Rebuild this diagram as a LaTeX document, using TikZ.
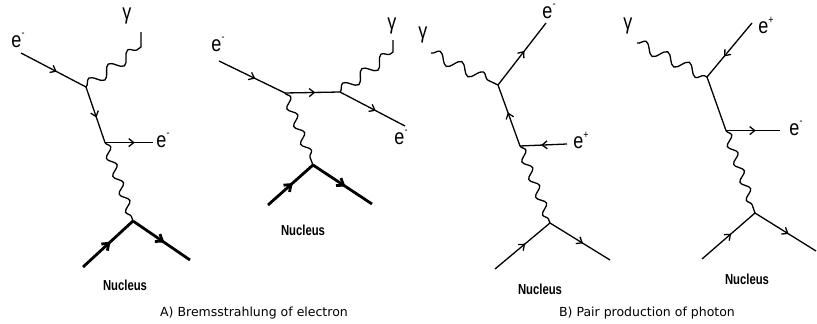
\documentclass[tikz,border=0pt]{standalone}
\usepackage{fontspec}
\setmainfont{DejaVu Sans}
\newfontfamily\labfont[FakeStretch=0.82]{Liberation Sans}
\newfontfamily\nucfont[FakeStretch=0.78]{Liberation Sans Bold}
\newcommand{\emin}{e\raisebox{0.5em}{\fontsize{11}{11}\selectfont -}}
\newcommand{\eplus}{e\raisebox{0.45em}{\fontsize{11}{11}\selectfont +}}
\usetikzlibrary{decorations.pathmorphing,decorations.markings,arrows.meta}
\begin{document}
\begin{tikzpicture}[x=1pt,y=-1pt,
  fermion/.style={line width=1.3pt, postaction={decorate},
    decoration={markings, mark=at position #1 with {\arrow{Straight Barb[length=5pt,width=8pt,line width=1.3pt]}}}},
  fermion/.default=0.55,
  heavy/.style={line width=2.8pt, postaction={decorate},
    decoration={markings, mark=at position #1 with {\arrow{Straight Barb[length=6pt,width=9pt,line width=2.8pt]}}}},
  heavy/.default=0.55,
  plain/.style={line width=1.3pt},
  photon/.style={line width=1.3pt},
  wig/.style={decoration={snake, amplitude=5.5pt, segment length=24pt}},
  wigs/.style={decoration={snake, amplitude=4pt, segment length=19pt}},
  lab/.style={font=\labfont\fontsize{22}{22}\selectfont, inner sep=0pt},
  glab/.style={font=\labfont\fontsize{22}{22}\selectfont, inner sep=0pt},
  nuc/.style={font=\nucfont\fontsize{14.5}{14.5}\selectfont, inner sep=0pt},
  captxt/.style={font=\fontsize{12.5}{13}\selectfont, inner sep=0pt}]
\useasboundingbox (0,0) rectangle (817,324);
% ---------- Diagram A1 ----------
\coordinate (a0) at (21,53);
\coordinate (a1) at (86,87);
\coordinate (a2) at (105,142.6);
\coordinate (a3) at (153,142.6);
\coordinate (a4) at (133,221);
\coordinate (an1) at (83,267);
\coordinate (an2) at (190,260);
\coordinate (ag) at (141,47);
\coordinate (agend) at (141,32);
\draw[fermion] (a0) -- (a1);
\draw[fermion] (a1) -- (a2);
\draw[fermion=0.62] (a2) -- (a3);
\draw[photon] (a1) decorate[wig]{-- (ag)} -- (agend);
\draw[photon] (a2) decorate[wigs]{-- (a4)};
\draw[heavy] (an1) -- (a4);
\draw[heavy] (a4) -- (an2);
\node[lab] (la0) at (18,40) {\emin};
\node[glab] (la1) at (127,16) {γ};
\node[lab] (la2) at (163,140) {\emin};
\node[nuc] (la3) at (125,285) {Nucleus};
% ---------- Diagram A2 ----------
\coordinate (b0) at (219,61);
\coordinate (b1) at (285,93);
\coordinate (b2) at (340,92);
\coordinate (b3) at (405,126);
\coordinate (b4) at (313,165);
\coordinate (bn1) at (268,205);
\coordinate (bn2) at (372,204);
\coordinate (bg) at (393,52);
\coordinate (bgend) at (393,40);
\draw[fermion] (b0) -- (b1);
\draw[fermion] (b1) -- (b2);
\draw[fermion] (b2) -- (b3);
\draw[photon] (b2) decorate[wig]{-- (bg)} -- (bgend);
\draw[photon] (b1) decorate[wigs]{-- (b4)};
\draw[heavy] (bn1) -- (b4);
\draw[heavy] (b4) -- (bn2);
\node[lab] (lb0) at (218,44) {\emin};
\node[glab] (lb1) at (392,26) {γ};
\node[lab] (lb2) at (401,137) {\emin};
\node[nuc] (lb3) at (303,230) {Nucleus};
% ---------- Diagram B1 ----------
\coordinate (cg) at (431,53);
\coordinate (c1) at (498,85);
\coordinate (c0) at (546,23);
\coordinate (c2) at (520,146);
\coordinate (c3) at (567,144);
\coordinate (c4) at (550,223);
\coordinate (cn1) at (495,269);
\coordinate (cn2) at (610,260);
\draw[photon] (cg) decorate[wig]{-- (c1)};
\draw[fermion] (c1) -- (c0);
\draw[fermion] (c2) -- (c1);
\draw[fermion] (c3) -- (c2);
\draw[photon] (c2) decorate[wigs]{-- (c4)};
\draw[fermion] (cn1) -- (c4);
\draw[fermion] (c4) -- (cn2);
\node[glab] (lc0) at (423,35) {γ};
\node[lab] (lc1) at (549,11) {\emin};
\node[lab] (lc2) at (581,140) {\eplus};
\node[nuc] (lc3) at (540,289) {Nucleus};
% ---------- Diagram B2 ----------
\coordinate (dg) at (637,43);
\coordinate (d1) at (707,77);
\coordinate (d0) at (752,23);
\coordinate (d2) at (726,130.6);
\coordinate (d3) at (780,130.6);
\coordinate (d4) at (755,213);
\coordinate (dn1) at (702,259);
\coordinate (dn2) at (816,251);
\draw[photon] (dg) decorate[wig]{-- (d1)};
\draw[fermion=0.62] (d0) -- (d1);
\draw[plain] (d1) -- (d2);
\draw[fermion] (d2) -- (d3);
\draw[photon] (d2) decorate[wigs]{-- (d4)};
\draw[fermion] (dn1) -- (d4);
\draw[fermion] (d4) -- (dn2);
\node[glab] (ld0) at (628,26) {γ};
\node[lab] (ld1) at (766,25) {\eplus};
\node[lab] (ld2) at (796,128) {\emin};
\node[nuc] (ld3) at (747,279) {Nucleus};
% ---------- captions ----------
\node[captxt] (capA) at (254,313) {A) Bremsstrahlung of electron};
\node[captxt] (capB) at (647,313) {B) Pair production of photon};
\end{tikzpicture}
\end{document}
